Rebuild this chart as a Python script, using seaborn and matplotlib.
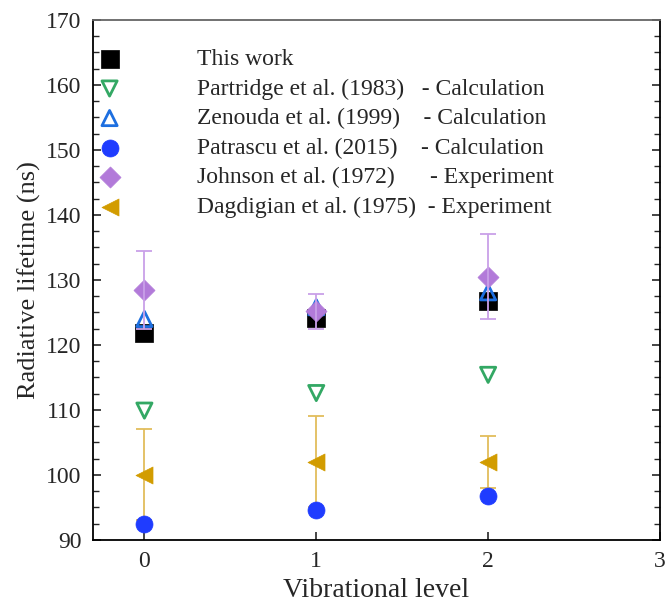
import numpy as np
import pandas as pd
import matplotlib
matplotlib.use("Agg")
import matplotlib.pyplot as plt
import seaborn as sns
from matplotlib.ticker import MultipleLocator

levels = [0, 1, 2]
this_work = [121.8, 124.1, 126.7]
partridge = [109.9, 112.6, 115.4]
zenouda = [124.0, 125.8, 128.1]
patrascu = [92.4, 94.6, 96.7]
johnson = [128.5, 125.2, 130.5]
johnson_err = [6.0, 2.7, 6.5]
dagdigian = [100.0, 102.0, 102.0]
dagdigian_err = [7.0, 7.0, 4.0]

labels = [
    "This work",
    "Partridge et al. (1983)   - Calculation",
    "Zenouda et al. (1999)    - Calculation",
    "Patrascu et al. (2015)    - Calculation",
    "Johnson et al. (1972)      - Experiment",
    "Dagdigian et al. (1975)  - Experiment",
]

sns.set_theme(style="ticks")
plt.rcParams["font.family"] = ["Liberation Serif", "DejaVu Serif"]
plt.rcParams["mathtext.fontset"] = "stix"

fig = plt.figure(figsize=(6.68, 6.04), dpi=100)
ax = fig.add_axes([0.139, 0.106, 0.849, 0.861])

series = [
    (this_work, "s", "black", True, 160),
    (partridge, "v", "#33a864", False, 120),
    (zenouda, "^", "#1d6fe0", False, 120),
    (patrascu, "o", "#1f3cff", True, 150),
    (johnson, "D", "#b27ad9", True, 115),
    (dagdigian, "<", "#d29c00", True, 150),
]

for (vals, m, c, filled, s), lab in zip(series, labels):
    if filled:
        sns.scatterplot(x=levels, y=vals, ax=ax, marker=m, s=s, color=c,
                        edgecolor=c, linewidth=0.5, label=lab, zorder=3)
    else:
        sns.scatterplot(x=levels, y=vals, ax=ax, marker=m, s=s,
                        facecolors="none", edgecolors=c, linewidth=2,
                        label=lab, zorder=3)

ax.errorbar(levels, johnson, yerr=johnson_err, fmt="none", ecolor="#c9a0e8",
            elinewidth=1.3, capsize=6, capthick=1.3, zorder=4)
ax.errorbar(levels, dagdigian, yerr=dagdigian_err, fmt="none", ecolor="#e2bd5c",
            elinewidth=1.3, capsize=6, capthick=1.3, zorder=2)

ax.set_xlim(-0.3, 3)
ax.set_ylim(90, 170)
ax.set_xticks([0, 1, 2, 3])
ax.set_yticks(np.arange(90, 171, 10))
ax.yaxis.set_minor_locator(MultipleLocator(2.5))
ax.tick_params(axis="both", which="major", direction="in", length=6, width=1.2,
               labelsize=17, right=True, top=False, pad=8)
ax.tick_params(axis="y", which="minor", direction="in", length=4, width=1,
               right=True)
for sp in ax.spines.values():
    sp.set_linewidth(1.3)
    sp.set_color("black")
ax.spines["top"].set_color("#666666")

ax.set_xlabel("Vibrational level", fontsize=20)
ax.set_ylabel("Radiative lifetime (ns)", fontsize=19)

leg = ax.legend(loc="upper left", bbox_to_anchor=(-0.008, 0.963), frameon=False,
                fontsize=17, handlelength=1.0, handletextpad=3.2,
                labelspacing=0.34, borderaxespad=0.0)

fig.savefig("out.png", dpi=100)
